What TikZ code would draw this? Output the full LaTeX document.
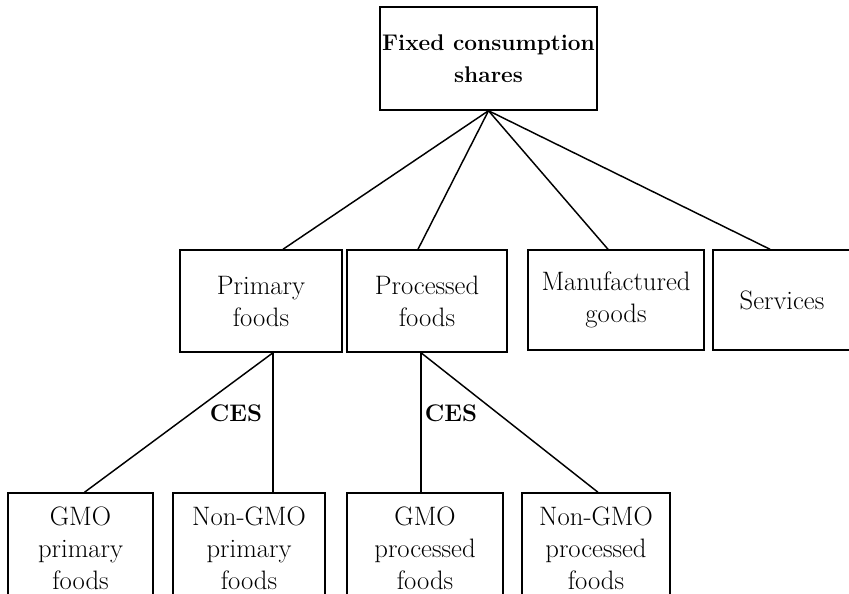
\documentclass[tikz,border=0pt]{standalone}
\usepackage{tikz}
\usetikzlibrary{positioning,calc}
\tikzset{%
  block/.style  = {draw, rectangle, line width=1.1pt, align=center,
    inner sep=0pt, font=\fontsize{20}{24}\selectfont},
  label/.style  = {font=\fontsize{18}{24}\selectfont\bfseries} % CES
}
\begin{document}
\begin{tikzpicture}[x=0.75pt, y=-0.75pt, line width=1.1pt]
  \clip (0,0) rectangle (849,593);

  \draw node at (488.5,58.5) [block, minimum width=162.75pt, minimum height=77.25pt,
    font=\fontsize{17}{24}\selectfont\bfseries] (top) {Fixed consumption\\shares};

  \draw node at (261,301) [block, minimum width=121.5pt, minimum height=76.5pt] (prim) {Primary\\foods};
  \draw node at (427,301) [block, minimum width=120pt, minimum height=76.5pt] (proc) {Processed\\foods};
  \draw node at (616,300) [block, minimum width=132pt, minimum height=75pt] (manu) {Manufactured\\goods};
  \draw node at (782,300) [block, minimum width=103.5pt, minimum height=75pt] (serv) {Services};

  \draw node at (80.5,548) [block, minimum width=108.75pt, minimum height=82.5pt] (gprim) {GMO\\primary\\foods};
  \draw node at (249,548) [block, minimum width=114pt, minimum height=82.5pt] (nprim) {Non-GMO\\primary\\foods};
  \draw node at (425,548) [block, minimum width=117pt, minimum height=82.5pt] (gproc) {GMO\\processed\\foods};
  \draw node at (596,548) [block, minimum width=111pt, minimum height=82.5pt] (nproc) {Non-GMO\\processed\\foods};

  \draw (top.south) -- ($(prim.north)+(22,0)$);
  \draw (top.south) -- ($(proc.north)+(-9,0)$);
  \draw (top.south) -- ($(manu.north)+(-8,0)$);
  \draw (top.south) -- ($(serv.north)+(-12,0)$);

  \draw ($(prim.south)+(12,0)$) -- ($(gprim.north)+(4,0)$);
  \draw ($(prim.south)+(12,0)$) -- ($(nprim.north)+(24,0)$);
  \draw ($(proc.south)+(-6,0)$) -- ($(gproc.north)+(-4,0)$);
  \draw ($(proc.south)+(-6,0)$) -- ($(nproc.north)+(2,0)$);

  \node at (236,413) [label] (ces1) {CES};
  \node at (451,413) [label] (ces2) {CES};
\end{tikzpicture}
\end{document}
